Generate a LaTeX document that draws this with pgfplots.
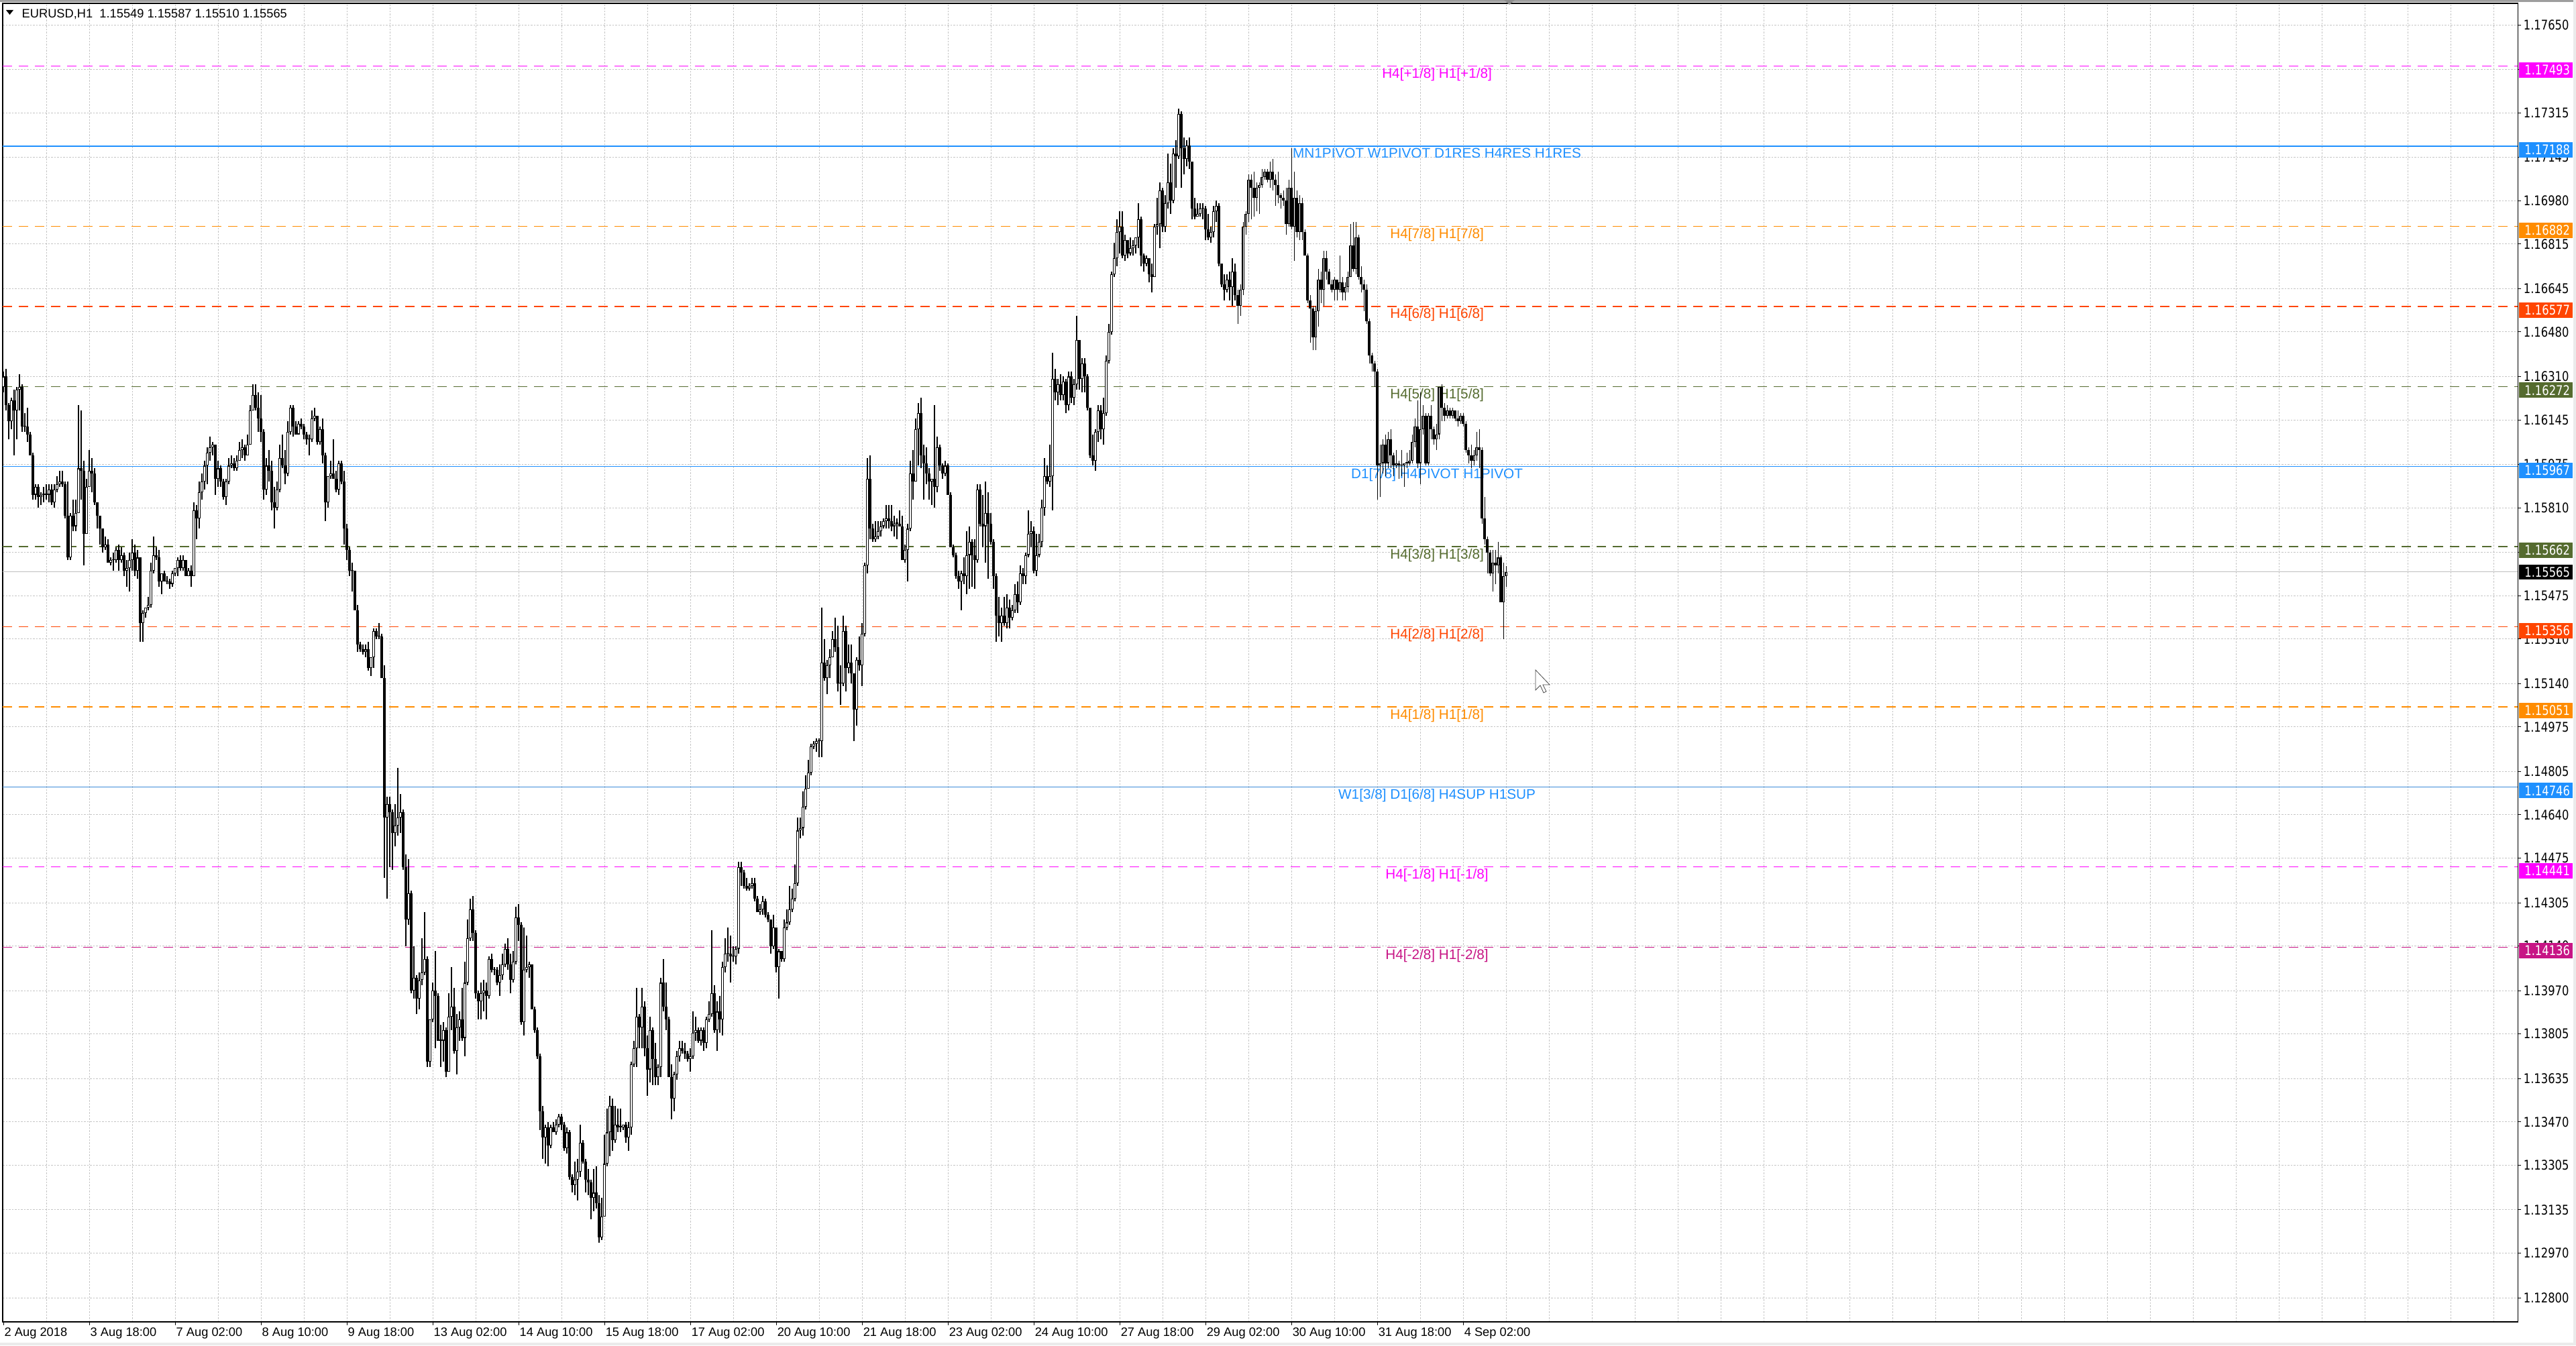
\documentclass[border=0pt]{standalone}
\usepackage{pgfplots}
\pgfplotsset{compat=1.18}
\usepackage{pgfplotstable}
\usepackage{fontspec}
\setmainfont{Liberation Sans}
\newfontfamily\dejavu{DejaVu Sans}
\newcommand\yl[1]{\scalebox{1}[1.22]{#1}}
\definecolor{mtmagenta}{HTML}{FF00FF}
\definecolor{mtblue}{HTML}{1E90FF}
\definecolor{mtorange}{HTML}{FF8C00}
\definecolor{mtorangered}{HTML}{FF4500}
\definecolor{mtolive}{HTML}{556B2F}
\definecolor{mtviolet}{HTML}{C71585}
\definecolor{mtgrid}{HTML}{C4C4C4}
\definecolor{mtcur}{HTML}{C0C0C0}
\pgfplotstableread{
o h l c
1.1627 1.1633 1.1625 1.1631
1.1631 1.1634 1.1618 1.1620
1.1620 1.1621 1.1607 1.1614
1.1614 1.1623 1.1611 1.1622
1.1622 1.1626 1.1601 1.1618
1.1618 1.1627 1.1607 1.1626
1.1626 1.1632 1.1618 1.1627
1.1627 1.1628 1.1610 1.1612
1.1612 1.1617 1.1610 1.1612
1.1612 1.1619 1.1606 1.1609
1.1609 1.1610 1.1601 1.1601
1.1601 1.1602 1.1584 1.1586
1.1586 1.1590 1.1584 1.1589
1.1589 1.1590 1.1581 1.1585
1.1585 1.1587 1.1582 1.1586
1.1586 1.1589 1.1583 1.1586
1.1586 1.1590 1.1584 1.1586
1.1586 1.1590 1.1583 1.1588
1.1588 1.1590 1.1582 1.1583
1.1583 1.1590 1.1581 1.1588
1.1588 1.1593 1.1587 1.1590
1.1590 1.1595 1.1589 1.1591
1.1591 1.1595 1.1589 1.1590
1.1590 1.1591 1.1577 1.1578
1.1578 1.1591 1.1561 1.1562
1.1562 1.1579 1.1561 1.1578
1.1578 1.1584 1.1572 1.1574
1.1574 1.1584 1.1572 1.1579
1.1579 1.1620 1.1579 1.1596
1.1596 1.1618 1.1584 1.1595
1.1595 1.1599 1.1559 1.1571
1.1571 1.1592 1.1571 1.1589
1.1589 1.1603 1.1589 1.1595
1.1595 1.1600 1.1587 1.1594
1.1594 1.1596 1.1582 1.1583
1.1583 1.1583 1.1573 1.1578
1.1578 1.1578 1.1567 1.1573
1.1573 1.1573 1.1564 1.1566
1.1566 1.1570 1.1565 1.1567
1.1567 1.1569 1.1560 1.1560
1.1560 1.1562 1.1559 1.1561
1.1561 1.1564 1.1557 1.1561
1.1561 1.1566 1.1560 1.1565
1.1565 1.1567 1.1557 1.1561
1.1561 1.1566 1.1560 1.1563
1.1563 1.1564 1.1555 1.1557
1.1557 1.1561 1.1551 1.1558
1.1558 1.1564 1.1549 1.1561
1.1561 1.1569 1.1557 1.1564
1.1564 1.1567 1.1555 1.1557
1.1557 1.1565 1.1554 1.1562
1.1562 1.1562 1.1530 1.1537
1.1537 1.1542 1.1530 1.1541
1.1541 1.1543 1.1539 1.1543
1.1543 1.1547 1.1542 1.1544
1.1544 1.1560 1.1543 1.1557
1.1557 1.1570 1.1556 1.1563
1.1563 1.1566 1.1561 1.1562
1.1562 1.1565 1.1551 1.1553
1.1553 1.1556 1.1548 1.1556
1.1556 1.1557 1.1553 1.1553
1.1553 1.1555 1.1552 1.1553
1.1553 1.1554 1.1550 1.1552
1.1552 1.1557 1.1551 1.1556
1.1556 1.1558 1.1555 1.1558
1.1558 1.1562 1.1555 1.1561
1.1561 1.1563 1.1557 1.1558
1.1558 1.1563 1.1557 1.1561
1.1561 1.1561 1.1555 1.1555
1.1555 1.1558 1.1555 1.1557
1.1557 1.1559 1.1551 1.1555
1.1555 1.1583 1.1555 1.1580
1.1580 1.1582 1.1569 1.1577
1.1577 1.1591 1.1573 1.1587
1.1587 1.1594 1.1584 1.1591
1.1591 1.1599 1.1588 1.1597
1.1597 1.1604 1.1590 1.1602
1.1602 1.1608 1.1599 1.1604
1.1604 1.1606 1.1601 1.1605
1.1605 1.1605 1.1586 1.1592
1.1592 1.1599 1.1589 1.1596
1.1596 1.1597 1.1589 1.1591
1.1591 1.1592 1.1584 1.1585
1.1585 1.1592 1.1582 1.1591
1.1591 1.1600 1.1590 1.1597
1.1597 1.1601 1.1596 1.1598
1.1598 1.1600 1.1595 1.1596
1.1596 1.1601 1.1595 1.1599
1.1599 1.1606 1.1599 1.1603
1.1603 1.1607 1.1600 1.1604
1.1604 1.1605 1.1599 1.1601
1.1601 1.1609 1.1601 1.1605
1.1605 1.1620 1.1605 1.1618
1.1618 1.1628 1.1618 1.1624
1.1624 1.1628 1.1618 1.1619
1.1619 1.1625 1.1610 1.1615
1.1615 1.1624 1.1606 1.1610
1.1610 1.1611 1.1584 1.1588
1.1588 1.1600 1.1586 1.1597
1.1597 1.1603 1.1591 1.1595
1.1595 1.1599 1.1580 1.1583
1.1583 1.1589 1.1573 1.1581
1.1581 1.1591 1.1580 1.1588
1.1588 1.1605 1.1587 1.1600
1.1600 1.1609 1.1596 1.1597
1.1597 1.1603 1.1590 1.1594
1.1594 1.1614 1.1593 1.1610
1.1610 1.1620 1.1609 1.1619
1.1619 1.1620 1.1608 1.1612
1.1612 1.1614 1.1609 1.1609
1.1609 1.1614 1.1609 1.1613
1.1613 1.1615 1.1611 1.1612
1.1612 1.1613 1.1607 1.1609
1.1609 1.1610 1.1605 1.1607
1.1607 1.1609 1.1601 1.1607
1.1607 1.1618 1.1606 1.1615
1.1615 1.1619 1.1614 1.1616
1.1616 1.1616 1.1605 1.1606
1.1606 1.1612 1.1605 1.1611
1.1611 1.1615 1.1598 1.1601
1.1601 1.1602 1.1576 1.1583
1.1583 1.1593 1.1581 1.1593
1.1593 1.1599 1.1592 1.1594
1.1594 1.1607 1.1592 1.1592
1.1592 1.1595 1.1587 1.1588
1.1588 1.1599 1.1586 1.1598
1.1598 1.1599 1.1590 1.1591
1.1591 1.1595 1.1567 1.1573
1.1573 1.1575 1.1561 1.1565
1.1565 1.1566 1.1555 1.1557
1.1557 1.1560 1.1549 1.1557
1.1557 1.1557 1.1542 1.1542
1.1542 1.1544 1.1526 1.1529
1.1529 1.1530 1.1526 1.1527
1.1527 1.1529 1.1525 1.1526
1.1526 1.1529 1.1524 1.1527
1.1527 1.1530 1.1519 1.1520
1.1520 1.1524 1.1517 1.1524
1.1524 1.1535 1.1520 1.1534
1.1534 1.1535 1.1531 1.1532
1.1532 1.1537 1.1531 1.1532
1.1532 1.1533 1.1516 1.1516
1.1516 1.1521 1.1440 1.1463
1.1463 1.1471 1.1432 1.1468
1.1468 1.1471 1.1444 1.1465
1.1465 1.1466 1.1443 1.1457
1.1457 1.1468 1.1452 1.1460
1.1460 1.1482 1.1456 1.1463
1.1463 1.1472 1.1457 1.1465
1.1465 1.1466 1.1443 1.1444
1.1444 1.1449 1.1414 1.1424
1.1424 1.1447 1.1422 1.1434
1.1434 1.1435 1.1396 1.1397
1.1397 1.1414 1.1394 1.1402
1.1402 1.1403 1.1388 1.1394
1.1394 1.1404 1.1390 1.1401
1.1401 1.1417 1.1399 1.1404
1.1404 1.1427 1.1403 1.1409
1.1409 1.1410 1.1368 1.1370
1.1370 1.1386 1.1368 1.1386
1.1386 1.1400 1.1385 1.1397
1.1397 1.1412 1.1375 1.1395
1.1395 1.1396 1.1378 1.1378
1.1378 1.1384 1.1368 1.1378
1.1378 1.1385 1.1370 1.1382
1.1382 1.1383 1.1364 1.1366
1.1366 1.1396 1.1366 1.1387
1.1387 1.1406 1.1382 1.1391
1.1391 1.1398 1.1373 1.1374
1.1374 1.1388 1.1365 1.1383
1.1383 1.1389 1.1378 1.1386
1.1386 1.1398 1.1378 1.1379
1.1379 1.1408 1.1372 1.1400
1.1400 1.1424 1.1399 1.1417
1.1417 1.1432 1.1416 1.1428
1.1428 1.1433 1.1416 1.1419
1.1419 1.1420 1.1394 1.1396
1.1396 1.1397 1.1386 1.1393
1.1393 1.1400 1.1386 1.1396
1.1396 1.1401 1.1389 1.1397
1.1397 1.1400 1.1386 1.1395
1.1395 1.1410 1.1394 1.1409
1.1409 1.1411 1.1404 1.1405
1.1405 1.1406 1.1403 1.1405
1.1405 1.1406 1.1399 1.1400
1.1400 1.1407 1.1395 1.1403
1.1403 1.1411 1.1401 1.1407
1.1407 1.1415 1.1406 1.1413
1.1413 1.1417 1.1405 1.1407
1.1407 1.1411 1.1396 1.1401
1.1401 1.1412 1.1400 1.1408
1.1408 1.1429 1.1407 1.1425
1.1425 1.1430 1.1416 1.1422
1.1422 1.1423 1.1384 1.1385
1.1385 1.1421 1.1380 1.1405
1.1405 1.1418 1.1404 1.1406
1.1406 1.1408 1.1402 1.1407
1.1407 1.1407 1.1390 1.1390
1.1390 1.1391 1.1381 1.1382
1.1382 1.1383 1.1371 1.1372
1.1372 1.1373 1.1344 1.1351
1.1351 1.1353 1.1333 1.1341
1.1341 1.1346 1.1331 1.1345
1.1345 1.1347 1.1330 1.1338
1.1338 1.1346 1.1337 1.1345
1.1345 1.1347 1.1343 1.1343
1.1343 1.1348 1.1342 1.1346
1.1346 1.1350 1.1345 1.1349
1.1349 1.1350 1.1344 1.1346
1.1346 1.1347 1.1336 1.1337
1.1337 1.1345 1.1335 1.1343
1.1343 1.1344 1.1325 1.1326
1.1326 1.1327 1.1320 1.1323
1.1323 1.1332 1.1319 1.1325
1.1325 1.1333 1.1317 1.1328
1.1328 1.1346 1.1326 1.1339
1.1339 1.1340 1.1331 1.1332
1.1332 1.1333 1.1320 1.1325
1.1325 1.1329 1.1319 1.1324
1.1324 1.1325 1.1310 1.1318
1.1318 1.1329 1.1313 1.1320
1.1320 1.1330 1.1314 1.1316
1.1316 1.1319 1.1301 1.1303
1.1303 1.1318 1.1302 1.1311
1.1311 1.1342 1.1311 1.1331
1.1331 1.1352 1.1330 1.1343
1.1343 1.1357 1.1334 1.1353
1.1353 1.1356 1.1336 1.1340
1.1340 1.1353 1.1339 1.1346
1.1346 1.1352 1.1343 1.1345
1.1345 1.1352 1.1343 1.1345
1.1345 1.1346 1.1344 1.1346
1.1346 1.1347 1.1339 1.1341
1.1341 1.1347 1.1336 1.1345
1.1345 1.1370 1.1342 1.1369
1.1369 1.1378 1.1368 1.1375
1.1375 1.1398 1.1368 1.1387
1.1387 1.1388 1.1375 1.1383
1.1383 1.1398 1.1375 1.1391
1.1391 1.1393 1.1372 1.1375
1.1375 1.1380 1.1357 1.1367
1.1367 1.1387 1.1362 1.1382
1.1382 1.1383 1.1361 1.1371
1.1371 1.1377 1.1361 1.1364
1.1364 1.1369 1.1361 1.1368
1.1368 1.1402 1.1364 1.1400
1.1400 1.1409 1.1389 1.1391
1.1391 1.1400 1.1382 1.1386
1.1386 1.1387 1.1364 1.1364
1.1364 1.1369 1.1348 1.1356
1.1356 1.1366 1.1351 1.1365
1.1365 1.1374 1.1363 1.1372
1.1372 1.1378 1.1370 1.1375
1.1375 1.1378 1.1373 1.1374
1.1374 1.1377 1.1371 1.1373
1.1373 1.1374 1.1370 1.1371
1.1371 1.1375 1.1366 1.1372
1.1372 1.1389 1.1371 1.1381
1.1381 1.1387 1.1378 1.1382
1.1382 1.1383 1.1377 1.1378
1.1378 1.1383 1.1376 1.1382
1.1382 1.1383 1.1374 1.1377
1.1377 1.1387 1.1375 1.1386
1.1386 1.1393 1.1385 1.1388
1.1388 1.1420 1.1387 1.1396
1.1396 1.1399 1.1381 1.1382
1.1382 1.1393 1.1374 1.1389
1.1389 1.1395 1.1381 1.1386
1.1386 1.1408 1.1380 1.1406
1.1406 1.1417 1.1404 1.1411
1.1411 1.1421 1.1408 1.1411
1.1411 1.1418 1.1400 1.1410
1.1410 1.1414 1.1408 1.1410
1.1410 1.1414 1.1407 1.1413
1.1413 1.1446 1.1411 1.1444
1.1444 1.1446 1.1437 1.1442
1.1442 1.1443 1.1436 1.1437
1.1437 1.1440 1.1435 1.1436
1.1436 1.1438 1.1435 1.1437
1.1437 1.1440 1.1436 1.1438
1.1438 1.1440 1.1431 1.1432
1.1432 1.1433 1.1427 1.1427
1.1427 1.1430 1.1426 1.1428
1.1428 1.1433 1.1426 1.1431
1.1431 1.1432 1.1425 1.1426
1.1426 1.1427 1.1423 1.1424
1.1424 1.1424 1.1411 1.1414
1.1414 1.1426 1.1413 1.1421
1.1421 1.1421 1.1404 1.1406
1.1406 1.1413 1.1394 1.1412
1.1412 1.1412 1.1408 1.1409
1.1409 1.1424 1.1408 1.1421
1.1421 1.1428 1.1420 1.1423
1.1423 1.1437 1.1422 1.1428
1.1428 1.1436 1.1427 1.1432
1.1432 1.1445 1.1431 1.1438
1.1438 1.1463 1.1437 1.1458
1.1458 1.1463 1.1455 1.1459
1.1459 1.1473 1.1456 1.1467
1.1467 1.1479 1.1466 1.1474
1.1474 1.1485 1.1474 1.1480
1.1480 1.1491 1.1479 1.1490
1.1490 1.1492 1.1489 1.1491
1.1491 1.1493 1.1488 1.1492
1.1492 1.1493 1.1486 1.1492
1.1492 1.1543 1.1486 1.1522
1.1522 1.1531 1.1515 1.1516
1.1516 1.1523 1.1510 1.1521
1.1521 1.1527 1.1516 1.1524
1.1524 1.1534 1.1524 1.1531
1.1531 1.1539 1.1526 1.1528
1.1528 1.1536 1.1511 1.1514
1.1514 1.1521 1.1506 1.1514
1.1514 1.1540 1.1513 1.1534
1.1534 1.1536 1.1511 1.1520
1.1520 1.1529 1.1518 1.1522
1.1522 1.1529 1.1514 1.1518
1.1518 1.1518 1.1492 1.1504
1.1504 1.1524 1.1498 1.1523
1.1523 1.1532 1.1519 1.1521
1.1521 1.1537 1.1513 1.1533
1.1533 1.1560 1.1532 1.1559
1.1559 1.1600 1.1556 1.1592
1.1592 1.1601 1.1569 1.1573
1.1573 1.1575 1.1568 1.1569
1.1569 1.1576 1.1568 1.1570
1.1570 1.1576 1.1569 1.1572
1.1572 1.1576 1.1570 1.1574
1.1574 1.1577 1.1573 1.1576
1.1576 1.1582 1.1573 1.1577
1.1577 1.1582 1.1573 1.1576
1.1576 1.1582 1.1572 1.1574
1.1574 1.1578 1.1570 1.1575
1.1575 1.1577 1.1569 1.1575
1.1575 1.1580 1.1574 1.1574
1.1574 1.1578 1.1561 1.1561
1.1561 1.1567 1.1560 1.1565
1.1565 1.1575 1.1553 1.1573
1.1573 1.1599 1.1572 1.1594
1.1594 1.1603 1.1584 1.1591
1.1591 1.1615 1.1591 1.1611
1.1611 1.1621 1.1597 1.1617
1.1617 1.1623 1.1596 1.1601
1.1601 1.1605 1.1584 1.1598
1.1598 1.1604 1.1590 1.1594
1.1594 1.1596 1.1584 1.1591
1.1591 1.1592 1.1582 1.1592
1.1592 1.1620 1.1581 1.1589
1.1589 1.1608 1.1587 1.1604
1.1604 1.1605 1.1595 1.1597
1.1597 1.1598 1.1592 1.1594
1.1594 1.1599 1.1593 1.1597
1.1597 1.1598 1.1586 1.1586
1.1586 1.1587 1.1566 1.1566
1.1566 1.1567 1.1562 1.1563
1.1563 1.1564 1.1554 1.1555
1.1555 1.1557 1.1550 1.1553
1.1553 1.1557 1.1542 1.1556
1.1556 1.1562 1.1552 1.1555
1.1555 1.1572 1.1548 1.1563
1.1563 1.1574 1.1550 1.1568
1.1568 1.1569 1.1551 1.1563
1.1563 1.1569 1.1550 1.1561
1.1561 1.1590 1.1560 1.1588
1.1588 1.1590 1.1574 1.1575
1.1575 1.1586 1.1566 1.1574
1.1574 1.1591 1.1560 1.1579
1.1579 1.1587 1.1554 1.1575
1.1575 1.1579 1.1567 1.1568
1.1568 1.1569 1.1550 1.1555
1.1555 1.1556 1.1530 1.1540
1.1540 1.1547 1.1532 1.1537
1.1537 1.1543 1.1530 1.1540
1.1540 1.1547 1.1536 1.1537
1.1537 1.1548 1.1535 1.1543
1.1543 1.1546 1.1535 1.1539
1.1539 1.1544 1.1538 1.1542
1.1542 1.1552 1.1541 1.1548
1.1548 1.1553 1.1541 1.1545
1.1545 1.1559 1.1544 1.1556
1.1556 1.1558 1.1552 1.1555
1.1555 1.1564 1.1552 1.1563
1.1563 1.1580 1.1562 1.1571
1.1571 1.1576 1.1566 1.1572
1.1572 1.1574 1.1556 1.1557
1.1557 1.1571 1.1555 1.1563
1.1563 1.1571 1.1562 1.1568
1.1568 1.1584 1.1566 1.1581
1.1581 1.1600 1.1578 1.1593
1.1593 1.1597 1.1590 1.1591
1.1591 1.1605 1.1589 1.1593
1.1593 1.1640 1.1580 1.1630
1.1630 1.1634 1.1622 1.1625
1.1625 1.1630 1.1620 1.1628
1.1628 1.1632 1.1622 1.1624
1.1624 1.1631 1.1622 1.1629
1.1629 1.1630 1.1617 1.1620
1.1620 1.1633 1.1618 1.1631
1.1631 1.1633 1.1621 1.1623
1.1623 1.1630 1.1620 1.1628
1.1628 1.1654 1.1626 1.1645
1.1645 1.1645 1.1626 1.1630
1.1630 1.1638 1.1625 1.1636
1.1636 1.1638 1.1625 1.1631
1.1631 1.1632 1.1618 1.1619
1.1619 1.1619 1.1600 1.1601
1.1601 1.1609 1.1597 1.1599
1.1599 1.1611 1.1595 1.1610
1.1610 1.1620 1.1606 1.1618
1.1618 1.1620 1.1607 1.1611
1.1611 1.1623 1.1605 1.1617
1.1617 1.1639 1.1616 1.1637
1.1637 1.1651 1.1636 1.1648
1.1648 1.1671 1.1647 1.1670
1.1670 1.1682 1.1669 1.1676
1.1676 1.1691 1.1673 1.1686
1.1686 1.1694 1.1678 1.1688
1.1688 1.1694 1.1676 1.1677
1.1677 1.1685 1.1675 1.1683
1.1683 1.1683 1.1676 1.1678
1.1678 1.1684 1.1677 1.1680
1.1680 1.1683 1.1677 1.1681
1.1681 1.1684 1.1678 1.1684
1.1684 1.1697 1.1680 1.1691
1.1691 1.1692 1.1673 1.1677
1.1677 1.1678 1.1671 1.1674
1.1674 1.1677 1.1673 1.1676
1.1676 1.1676 1.1667 1.1670
1.1670 1.1674 1.1663 1.1669
1.1669 1.1689 1.1669 1.1688
1.1688 1.1699 1.1685 1.1689
1.1689 1.1705 1.1680 1.1702
1.1702 1.1703 1.1686 1.1688
1.1688 1.1700 1.1686 1.1697
1.1697 1.1716 1.1695 1.1705
1.1705 1.1712 1.1693 1.1698
1.1698 1.1718 1.1697 1.1716
1.1716 1.1721 1.1703 1.1715
1.1715 1.1733 1.1714 1.1731
1.1731 1.1732 1.1703 1.1718
1.1718 1.1722 1.1708 1.1714
1.1714 1.1721 1.1711 1.1719
1.1719 1.1722 1.1710 1.1713
1.1713 1.1713 1.1691 1.1695
1.1695 1.1699 1.1691 1.1692
1.1692 1.1697 1.1692 1.1693
1.1693 1.1697 1.1692 1.1695
1.1695 1.1697 1.1691 1.1695
1.1695 1.1696 1.1683 1.1687
1.1687 1.1693 1.1683 1.1684
1.1684 1.1688 1.1682 1.1686
1.1686 1.1696 1.1684 1.1694
1.1694 1.1698 1.1690 1.1696
1.1696 1.1697 1.1673 1.1674
1.1674 1.1674 1.1665 1.1666
1.1666 1.1670 1.1660 1.1664
1.1664 1.1670 1.1663 1.1668
1.1668 1.1671 1.1660 1.1665
1.1665 1.1676 1.1658 1.1671
1.1671 1.1674 1.1660 1.1662
1.1662 1.1664 1.1651 1.1658
1.1658 1.1666 1.1654 1.1664
1.1664 1.1690 1.1662 1.1688
1.1688 1.1694 1.1685 1.1693
1.1693 1.1708 1.1690 1.1706
1.1706 1.1708 1.1691 1.1703
1.1703 1.1709 1.1692 1.1699
1.1699 1.1705 1.1694 1.1703
1.1703 1.1705 1.1693 1.1704
1.1704 1.1710 1.1703 1.1707
1.1707 1.1710 1.1706 1.1709
1.1709 1.1710 1.1705 1.1706
1.1706 1.1713 1.1703 1.1709
1.1709 1.1714 1.1702 1.1706
1.1706 1.1708 1.1696 1.1704
1.1704 1.1709 1.1697 1.1700
1.1700 1.1701 1.1695 1.1699
1.1699 1.1702 1.1696 1.1698
1.1698 1.1703 1.1685 1.1689
1.1689 1.1706 1.1688 1.1703
1.1703 1.1718 1.1687 1.1688
1.1688 1.1709 1.1675 1.1699
1.1699 1.1702 1.1684 1.1686
1.1686 1.1700 1.1683 1.1697
1.1697 1.1699 1.1683 1.1686
1.1686 1.1687 1.1677 1.1677
1.1677 1.1678 1.1659 1.1660
1.1660 1.1662 1.1644 1.1657
1.1657 1.1658 1.1641 1.1646
1.1646 1.1658 1.1641 1.1656
1.1656 1.1672 1.1650 1.1668
1.1668 1.1671 1.1659 1.1664
1.1664 1.1679 1.1658 1.1676
1.1676 1.1679 1.1668 1.1671
1.1671 1.1672 1.1666 1.1666
1.1666 1.1668 1.1663 1.1664
1.1664 1.1669 1.1660 1.1668
1.1668 1.1668 1.1660 1.1664
1.1664 1.1677 1.1663 1.1667
1.1667 1.1669 1.1660 1.1663
1.1663 1.1667 1.1660 1.1665
1.1665 1.1671 1.1663 1.1669
1.1669 1.1689 1.1669 1.1681
1.1681 1.1690 1.1671 1.1672
1.1672 1.1690 1.1670 1.1684
1.1684 1.1685 1.1668 1.1669
1.1669 1.1673 1.1663 1.1666
1.1666 1.1668 1.1656 1.1664
1.1664 1.1666 1.1651 1.1652
1.1652 1.1653 1.1636 1.1639
1.1639 1.1640 1.1633 1.1636
1.1636 1.1637 1.1627 1.1633
1.1633 1.1634 1.1584 1.1597
1.1597 1.1605 1.1585 1.1598
1.1598 1.1607 1.1594 1.1605
1.1605 1.1609 1.1593 1.1598
1.1598 1.1610 1.1596 1.1607
1.1607 1.1611 1.1596 1.1601
1.1601 1.1602 1.1593 1.1597
1.1597 1.1603 1.1596 1.1598
1.1598 1.1599 1.1592 1.1597
1.1597 1.1603 1.1593 1.1597
1.1597 1.1598 1.1589 1.1598
1.1598 1.1602 1.1596 1.1598
1.1598 1.1603 1.1597 1.1599
1.1599 1.1609 1.1598 1.1606
1.1606 1.1615 1.1604 1.1612
1.1612 1.1622 1.1596 1.1598
1.1598 1.1625 1.1590 1.1611
1.1611 1.1620 1.1609 1.1616
1.1616 1.1617 1.1597 1.1598
1.1598 1.1617 1.1597 1.1616
1.1616 1.1620 1.1607 1.1611
1.1611 1.1612 1.1605 1.1607
1.1607 1.1613 1.1603 1.1609
1.1609 1.1627 1.1607 1.1627
1.1627 1.1628 1.1614 1.1619
1.1619 1.1621 1.1614 1.1616
1.1616 1.1620 1.1615 1.1618
1.1618 1.1619 1.1615 1.1616
1.1616 1.1619 1.1615 1.1618
1.1618 1.1618 1.1614 1.1615
1.1615 1.1618 1.1612 1.1614
1.1614 1.1617 1.1613 1.1616
1.1616 1.1617 1.1612 1.1613
1.1613 1.1614 1.1602 1.1603
1.1603 1.1604 1.1598 1.1601
1.1601 1.1605 1.1596 1.1599
1.1599 1.1603 1.1597 1.1601
1.1601 1.1610 1.1599 1.1604
1.1604 1.1611 1.1596 1.1603
1.1603 1.1604 1.1575 1.1577
1.1577 1.1585 1.1567 1.1569
1.1569 1.1570 1.1556 1.1564
1.1564 1.1565 1.1555 1.1556
1.1556 1.1565 1.1549 1.1560
1.1560 1.1565 1.1552 1.1559
1.1559 1.1568 1.1556 1.1562
1.1562 1.1563 1.1545 1.1545
1.1545 1.1560 1.1531 1.1555
1.15549 1.15587 1.15510 1.15565
}\eurusd
\begin{document}
\begin{tikzpicture}
\path[use as bounding box, fill=white] (0,0) rectangle (384mm,200.6mm);
\fill[black!38] (0,200.3mm) rectangle (384mm,200.6mm);
\fill[black!8] (0,0) rectangle (384mm,0.4mm);
\fill[black!8] (383.6mm,0) rectangle (384mm,200.6mm);
\begin{axis}[
  at={(0.4mm,3.5mm)}, anchor=south west,
  scale only axis, width=374.9mm, height=196.6mm,
  xmin=-0.25, xmax=937, ymin=1.12708, ymax=1.17732,
  axis line style={black, line width=0.12mm},
  xtick={0,32,...,544},
  xticklabels={2 Aug 2018,3 Aug 18:00,7 Aug 02:00,8 Aug 10:00,9 Aug 18:00,13 Aug 02:00,14 Aug 10:00,15 Aug 18:00,17 Aug 02:00,20 Aug 10:00,21 Aug 18:00,23 Aug 02:00,24 Aug 10:00,27 Aug 18:00,29 Aug 02:00,30 Aug 10:00,31 Aug 18:00,4 Sep 02:00},
  minor xtick={16,32,...,928},
  xminorgrids,
  ytick={1.17650,1.17480,1.17315,1.17145,1.16980,1.16815,1.16645,1.16480,1.16310,1.16145,1.15975,1.15810,1.15640,1.15475,1.15310,1.15140,1.14975,1.14805,1.14640,1.14475,1.14305,1.14140,1.13970,1.13805,1.13635,1.13470,1.13305,1.13135,1.12970,1.12800},
  yticklabels={\yl{1.17650},\yl{1.17480},\yl{1.17315},\yl{1.17145},\yl{1.16980},\yl{1.16815},\yl{1.16645},\yl{1.16480},\yl{1.16310},\yl{1.16145},\yl{1.15975},\yl{1.15810},\yl{1.15640},\yl{1.15475},\yl{1.15310},\yl{1.15140},\yl{1.14975},\yl{1.14805},\yl{1.14640},\yl{1.14475},\yl{1.14305},\yl{1.14140},\yl{1.13970},\yl{1.13805},\yl{1.13635},\yl{1.13470},\yl{1.13305},\yl{1.13135},\yl{1.12970},\yl{1.12800}},
  ymajorgrids,
  tick align=outside,
  xtick pos=left, ytick pos=right, yticklabel pos=right,
  major tick length=0.5mm, minor tick length=0pt,
  every tick/.style={black, line width=0.1mm},
  major grid style={draw=mtgrid, line width=0.1mm, dash pattern=on 0.25mm off 0.2mm},
  minor grid style={draw=mtgrid, line width=0.1mm, dash pattern=on 0.25mm off 0.2mm},
  xticklabel style={font=\fontsize{5.2}{6}\selectfont, anchor=base west, inner sep=0pt, yshift=-1.6mm, xshift=0.1mm},
  yticklabel style={font=\dejavu\fontsize{4.65}{5}\selectfont, anchor=west, inner sep=0pt, xshift=0.3mm},
  candle/.style={forget plot, draw=none, mark=none, error bars/.cd, y dir=plus, y explicit, error mark=none},
]
% level lines
\addplot[forget plot, mtmagenta, line width=0.15mm, dash pattern=on 1.4mm off 1.0mm] coordinates {(-0.25,1.17493) (937,1.17493)};
\addplot[forget plot, mtblue, line width=0.2mm] coordinates {(-0.25,1.17188) (937,1.17188)};
\addplot[forget plot, mtorange, line width=0.1mm, dash pattern=on 1.4mm off 1.0mm] coordinates {(-0.25,1.16882) (937,1.16882)};
\addplot[forget plot, mtorangered, line width=0.12mm, dash pattern=on 1.4mm off 1.0mm] coordinates {(-0.25,1.16577) (937,1.16577)};
\addplot[forget plot, mtolive, line width=0.12mm, dash pattern=on 1.4mm off 1.0mm] coordinates {(-0.25,1.16272) (937,1.16272)};
\addplot[forget plot, mtblue, line width=0.12mm] coordinates {(-0.25,1.15967) (937,1.15967)};
\addplot[forget plot, mtolive, line width=0.12mm, dash pattern=on 1.4mm off 1.0mm] coordinates {(-0.25,1.15662) (937,1.15662)};
\addplot[forget plot, mtcur, line width=0.1mm] coordinates {(-0.25,1.15565) (937,1.15565)};
\addplot[forget plot, mtorangered, line width=0.12mm, dash pattern=on 1.4mm off 1.0mm] coordinates {(-0.25,1.15356) (937,1.15356)};
\addplot[forget plot, mtorange, line width=0.15mm, dash pattern=on 1.4mm off 1.0mm] coordinates {(-0.25,1.15051) (937,1.15051)};
\addplot[forget plot, mtblue!70!gray, line width=0.1mm] coordinates {(-0.25,1.14746) (937,1.14746)};
\addplot[forget plot, mtmagenta, line width=0.12mm, dash pattern=on 1.4mm off 1.0mm] coordinates {(-0.25,1.14441) (937,1.14441)};
\addplot[forget plot, mtviolet, line width=0.12mm, dash pattern=on 1.4mm off 1.0mm] coordinates {(-0.25,1.14136) (937,1.14136)};
% level labels
\begin{scope}[every node/.style={anchor=base, inner sep=0pt, font=\fontsize{5.9}{7}\selectfont}]
\node[text=mtmagenta] at (axis cs:534.25,1.17493) [yshift=-1.8mm] {H4[+1/8] H1[+1/8]};
\node[text=mtblue] at (axis cs:534.25,1.17188) [yshift=-1.8mm] {MN1PIVOT W1PIVOT D1RES H4RES H1RES};
\node[text=mtorange] at (axis cs:534.25,1.16882) [yshift=-1.8mm] {H4[7/8] H1[7/8]};
\node[text=mtorangered] at (axis cs:534.25,1.16577) [yshift=-1.8mm] {H4[6/8] H1[6/8]};
\node[text=mtolive] at (axis cs:534.25,1.16272) [yshift=-1.8mm] {H4[5/8] H1[5/8]};
\node[text=mtblue] at (axis cs:534.25,1.15967) [yshift=-1.8mm] {D1[7/8] H4PIVOT H1PIVOT};
\node[text=mtolive] at (axis cs:534.25,1.15662) [yshift=-1.8mm] {H4[3/8] H1[3/8]};
\node[text=mtorangered] at (axis cs:534.25,1.15356) [yshift=-1.8mm] {H4[2/8] H1[2/8]};
\node[text=mtorange] at (axis cs:534.25,1.15051) [yshift=-1.8mm] {H4[1/8] H1[1/8]};
\node[text=mtblue] at (axis cs:534.25,1.14746) [yshift=-1.8mm] {W1[3/8] D1[6/8] H4SUP H1SUP};
\node[text=mtmagenta] at (axis cs:534.25,1.14441) [yshift=-1.8mm] {H4[-1/8] H1[-1/8]};
\node[text=mtviolet] at (axis cs:534.25,1.14136) [yshift=-1.8mm] {H4[-2/8] H1[-2/8]};
\end{scope}
% candles: wicks
\addplot[candle, error bar style={draw=black, solid, line width=0.12mm}]
  table[x expr=\coordindex, y=l, y error plus expr={\thisrow{h}-\thisrow{l}}] {\eurusd};
% bodies
\addplot[candle, error bar style={draw=black, solid, line width=0.34mm}]
  table[x expr=\coordindex, y expr={min(\thisrow{o},\thisrow{c})}, y error plus expr={max(abs(\thisrow{c}-\thisrow{o}),0.00003)}] {\eurusd};
% hollow bull bodies
\addplot[candle, error bar style={draw=white, solid, line width=0.12mm}]
  table[x expr=\coordindex, y expr={\thisrow{o}+0.000028}, y error plus expr={max(\thisrow{c}-\thisrow{o}-0.000056,0)}] {\eurusd};
% anchors for price tags
\coordinate (t1) at (axis cs:937,1.17493);
\coordinate (t2) at (axis cs:937,1.17188);
\coordinate (t3) at (axis cs:937,1.16882);
\coordinate (t4) at (axis cs:937,1.16577);
\coordinate (t5) at (axis cs:937,1.16272);
\coordinate (t6) at (axis cs:937,1.15967);
\coordinate (t7) at (axis cs:937,1.15662);
\coordinate (t8) at (axis cs:937,1.15565);
\coordinate (t9) at (axis cs:937,1.15356);
\coordinate (t10) at (axis cs:937,1.15051);
\coordinate (t11) at (axis cs:937,1.14746);
\coordinate (t12) at (axis cs:937,1.14441);
\coordinate (t13) at (axis cs:937,1.14136);
\end{axis}
% price tags on the right scale
\foreach \n/\c/\v in {t1/mtmagenta/1.17493, t2/mtblue/1.17188, t3/mtorange/1.16882, t4/mtorangered/1.16577, t5/mtolive/1.16272, t6/mtblue/1.15967, t7/mtolive/1.15662, t9/mtorangered/1.15356, t10/mtorange/1.15051, t11/mtblue/1.14746, t12/mtmagenta/1.14441, t13/mtviolet/1.14136}{
  \fill[\c] ([xshift=0.15mm,yshift=-1.7mm]\n) rectangle ([xshift=8.2mm,yshift=0.6mm]\n);
  \node[anchor=west, inner sep=0pt, text=white, font=\dejavu\fontsize{4.65}{5}\selectfont] at ([xshift=0.95mm,yshift=-0.55mm]\n) {\yl{\v}};
}
\fill[black] ([xshift=0.15mm,yshift=-1.1mm]t8) rectangle ([xshift=8.2mm,yshift=1.1mm]t8);
\node[anchor=west, inner sep=0pt, text=white, font=\dejavu\fontsize{4.65}{5}\selectfont] at ([xshift=0.95mm]t8) {\yl{1.15565}};
% header
\fill[black] (0.9mm,199.1mm) -- (2.0mm,199.1mm) -- (1.45mm,198.4mm) -- cycle;
\node[anchor=base west, inner sep=0pt, font=\fontsize{5.2}{6}\selectfont] at (3.2mm,197.9mm) {EURUSD,H1\ \ 1.15549 1.15587 1.15510 1.15565};
% chart shift marker
\fill[black!45] (224.2mm,200.6mm) -- (225.8mm,200.6mm) -- (225mm,199.9mm) -- cycle;
% mouse cursor
\filldraw[fill=white, draw=black!70, line width=0.08mm, shift={(228.9mm,100.7mm)}, x=0.1mm, y=0.1mm]
  (0,0) -- (0,-30) -- (7,-23) -- (12,-34) -- (16,-32) -- (11,-22) -- (21,-22) -- cycle;
\end{tikzpicture}
\end{document}
